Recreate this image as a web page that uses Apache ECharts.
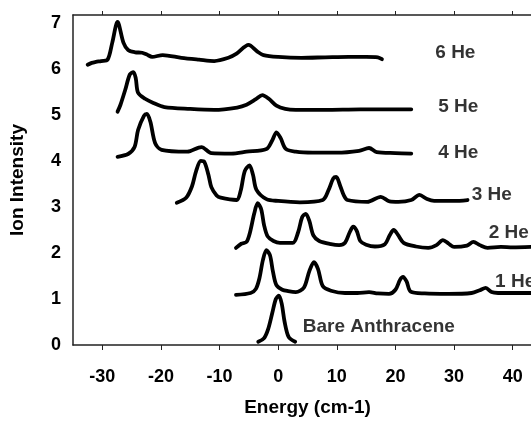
<!DOCTYPE html>
<html>
<head>
<meta charset="utf-8">
<script src="https://cdn.jsdelivr.net/npm/echarts@6/dist/echarts.min.js"></script>
<style>
html,body{margin:0;padding:0;background:#fff;overflow:hidden;width:531px;height:422px;}
#chart{width:542px;height:422px;}
</style>
</head>
<body>
<div id="chart"></div>
<script>
// Data: [energy (cm-1), ion intensity (offset)]
const he6 = [[-32.5,6.09],[-31.8,6.13],[-31.1,6.15],[-30.2,6.17],[-29.1,6.2],[-28.3,6.57],[-27.4,7.02],[-26.4,6.57],[-25.6,6.41],[-24.4,6.36],[-23.2,6.35],[-22.4,6.31],[-21.5,6.26],[-19.7,6.3],[-16.5,6.24],[-13.5,6.2],[-10.9,6.17],[-8.5,6.24],[-7.1,6.33],[-5.05,6.52],[-3.6,6.38],[-2.5,6.3],[0,6.26],[4,6.24],[8,6.25],[12,6.26],[15,6.26],[17,6.25],[17.7,6.21]];
const he5 = [[-27.4,5.07],[-26.9,5.22],[-26.1,5.54],[-25.3,5.88],[-24.7,5.93],[-24.3,5.8],[-23.9,5.48],[-22.7,5.35],[-21.3,5.26],[-19.4,5.17],[-15,5.13],[-10.9,5.11],[-7,5.16],[-5.4,5.22],[-3.8,5.34],[-2.7,5.43],[-1.6,5.35],[-0.3,5.2],[1.2,5.13],[3.0,5.11],[8,5.11],[14,5.12],[19,5.12],[22.7,5.12]];
const he4 = [[-27.4,4.09],[-25.6,4.15],[-24.5,4.3],[-23.9,4.67],[-22.9,4.98],[-22.4,5.02],[-21.8,4.85],[-21.0,4.39],[-19.9,4.24],[-15.5,4.2],[-13.1,4.3],[-11.4,4.17],[-8,4.16],[-5.4,4.2],[-2.0,4.26],[-1.0,4.45],[-0.3,4.62],[0.4,4.5],[1.3,4.26],[3,4.2],[5.9,4.18],[10,4.18],[13.8,4.22],[15.5,4.28],[16.8,4.19],[20,4.17],[22.7,4.16]];
const he3 = [[-17.3,3.09],[-15.7,3.2],[-14.7,3.45],[-14.0,3.78],[-13.2,4.0],[-12.6,3.98],[-11.9,3.7],[-11.4,3.43],[-10.5,3.25],[-9.8,3.2],[-7.1,3.15],[-6.4,3.35],[-5.7,3.78],[-4.9,3.9],[-4.3,3.7],[-3.7,3.37],[-2.0,3.17],[0,3.13],[3.7,3.1],[7.6,3.15],[8.6,3.37],[9.4,3.62],[9.9,3.65],[10.6,3.45],[11.2,3.25],[11.8,3.15],[15.2,3.11],[17.5,3.22],[19,3.12],[20.5,3.11],[22.7,3.15],[24.1,3.26],[25.4,3.17],[26.6,3.13],[30,3.13],[32.3,3.15]];
const he2 = [[-7.2,2.11],[-6.3,2.2],[-5.4,2.24],[-4.8,2.45],[-4.1,2.85],[-3.5,3.08],[-2.9,2.95],[-2.4,2.6],[-1.8,2.36],[-0.8,2.26],[0.3,2.22],[2.5,2.22],[3.4,2.45],[4.1,2.78],[4.7,2.85],[5.3,2.7],[6.0,2.38],[7,2.26],[9,2.19],[10.4,2.17],[11.4,2.22],[12.2,2.45],[12.8,2.57],[13.4,2.48],[14.0,2.26],[15,2.18],[16.5,2.14],[18.2,2.19],[19.0,2.38],[19.7,2.5],[20.4,2.4],[21.4,2.22],[23.5,2.14],[25.6,2.11],[27.0,2.17],[28.1,2.28],[29.1,2.2],[30.0,2.13],[32.2,2.16],[33.3,2.24],[34.4,2.17],[35.7,2.11],[38,2.13],[40,2.12],[43.1,2.13]];
const he1 = [[-7.2,1.09],[-4.7,1.13],[-3.8,1.22],[-3.2,1.45],[-2.6,1.85],[-2.0,2.06],[-1.4,1.95],[-0.9,1.6],[-0.3,1.3],[0.7,1.2],[1.7,1.17],[3.0,1.15],[4.4,1.25],[5.3,1.6],[6.1,1.8],[6.8,1.65],[7.6,1.28],[9,1.18],[11.4,1.13],[13.5,1.13],[15.5,1.15],[17,1.12],[18.9,1.11],[20,1.2],[20.8,1.42],[21.3,1.48],[21.9,1.38],[22.6,1.16],[25,1.12],[29,1.11],[33,1.13],[34.4,1.19],[35.4,1.24],[36.4,1.15],[37.5,1.13],[40,1.13],[43.1,1.13]];
const bare = [[-3.4,0.07],[-2.4,0.15],[-1.7,0.35],[-1.0,0.7],[-0.4,1.0],[0.1,1.07],[0.6,0.9],[1.1,0.5],[1.8,0.17],[2.9,0.07]];

const seriesNames = ['6 He','5 He','4 He','3 He','2 He','1 He','Bare Anthracene'];
const seriesData = [he6, he5, he4, he3, he2, he1, bare];
// label anchors (left edge, vertical middle) in data units
const labelAnchors = [[26.8,6.35],[27.3,5.17],[27.3,4.17],[33.0,3.26],[35.9,2.43],[37.0,1.37],[4.2,0.39]];

const xTicks = [-30,-20,-10,0,10,20,30,40];
const yTicks = [0,1,2,3,4,5,6,7];

const font = '"Liberation Sans", Arial, sans-serif';
const chart = echarts.init(document.getElementById('chart'), null, {renderer:'canvas', width: 542, height: 422});

const lineSeries = seriesData.map((d, i) => ({
  name: seriesNames[i],
  type: 'line',
  data: d,
  smooth: 0.3,
  showSymbol: false,
  symbol: 'none',
  lineStyle: {color: '#000', width: 3.8, join: 'round', cap: 'round'},
  silent: true,
  z: 2
}));

const labelSeries = {
  type: 'scatter',
  symbolSize: 0,
  silent: true,
  data: labelAnchors.map((p, i) => ({value: p, name: seriesNames[i]})),
  label: {
    show: true, position: 'right', distance: 0,
    formatter: p => p.name,
    color: '#000', fontFamily: font, fontWeight: 'bold', fontSize: 19
  },
  z: 3
};

chart.setOption({
  animation: false,
  backgroundColor: '#fff',
  grid: {left: 67, top: 15, bottom: 77, right: 0, containLabel: false},
  xAxis: [{
    type: 'value', min: -35, max: 45, position: 'bottom',
    name: 'Energy (cm-1)', nameLocation: 'middle', nameGap: 53,
    nameTextStyle: {fontFamily: font, fontWeight: 'bold', fontSize: 19, color: '#000'},
    axisLine: {show: true, onZero: false, lineStyle: {color: '#222', width: 1.5}},
    axisTick: {show: true, inside: false, length: 5, customValues: xTicks, lineStyle: {color: '#222', width: 1}},
    axisLabel: {
      margin: 23, fontFamily: font, fontWeight: 'bold', fontSize: 18, color: '#000',
      customValues: xTicks
    },
    splitLine: {show: false}
  }, {
    type: 'value', min: -35, max: 45, position: 'top',
    axisLine: {show: true, onZero: false, lineStyle: {color: '#222', width: 1.5}},
    axisTick: {show: true, inside: false, length: 4, customValues: xTicks, lineStyle: {color: '#222', width: 1}},
    axisLabel: {show: false},
    splitLine: {show: false}
  }],
  yAxis: {
    type: 'value', min: 0, max: 7.17,
    name: 'Ion Intensity', nameLocation: 'middle', nameGap: 46, nameRotate: 90,
    nameTextStyle: {fontFamily: font, fontWeight: 'bold', fontSize: 19, color: '#000'},
    axisLine: {show: true, onZero: false, lineStyle: {color: '#222', width: 1.5}},
    axisTick: {show: false, customValues: yTicks},
    axisLabel: {
      margin: 12, fontFamily: font, fontWeight: 'bold', fontSize: 18, color: '#000',
      customValues: yTicks
    },
    splitLine: {show: false}
  },
  series: [...lineSeries, labelSeries]
});
</script>
</body>
</html>
